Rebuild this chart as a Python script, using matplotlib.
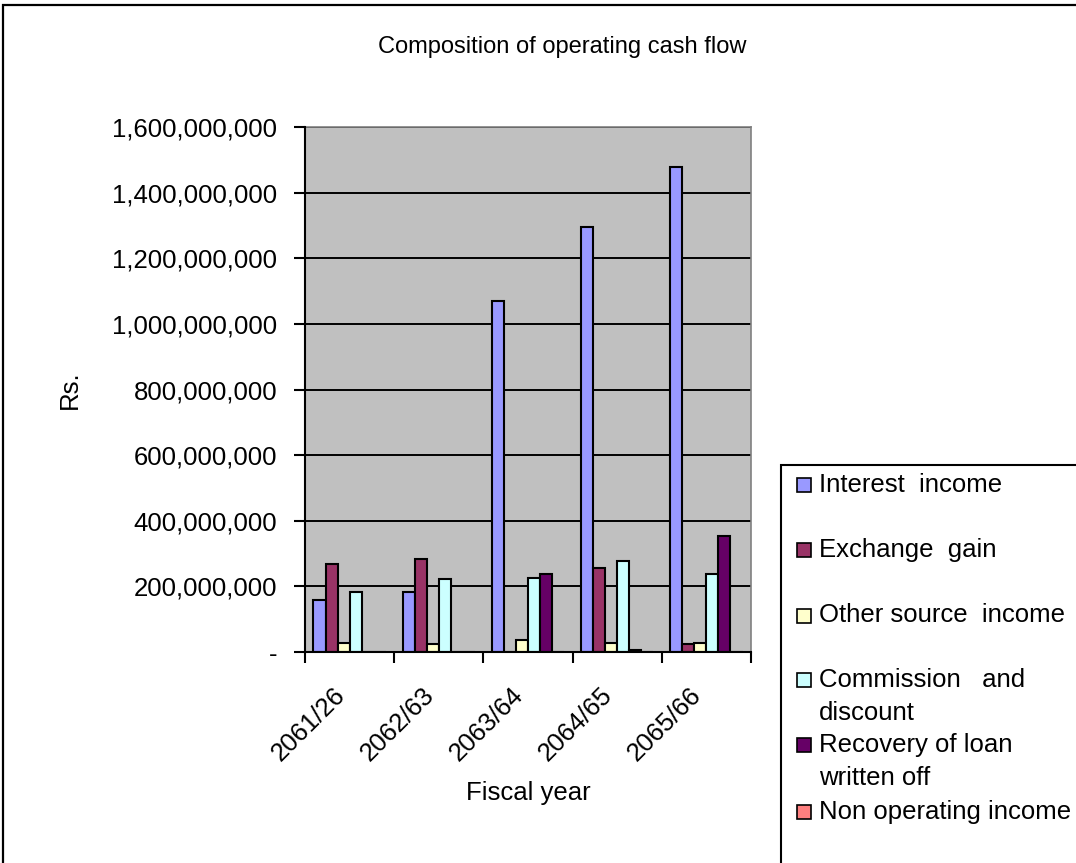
import numpy as np
import matplotlib
matplotlib.use("Agg")
import matplotlib.pyplot as plt
from matplotlib.patches import Rectangle
from matplotlib.ticker import FuncFormatter, MultipleLocator
from matplotlib.transforms import ScaledTranslation

# ---- data -------------------------------------------------------------
fiscal_years = ["2061/26", "2062/63", "2063/64", "2064/65", "2065/66"]

series_names = [
    "Interest  income",
    "Exchange  gain",
    "Other source  income",
    "Commission   and\ndiscount",
    "Recovery of loan\nwritten off",
    "Non operating income",
]

interest_income = [160_000_000, 183_000_000, 1_069_000_000, 1_296_000_000, 1_479_000_000]
exchange_gain = [269_000_000, 282_000_000, 0, 256_000_000, 23_000_000]
other_source_income = [28_000_000, 23_000_000, 38_000_000, 28_000_000, 28_000_000]
commission_discount = [183_000_000, 221_000_000, 227_000_000, 276_000_000, 239_000_000]
loan_recovery = [0, 0, 239_000_000, 5_000_000, 355_000_000]
non_operating_income = [0, 0, 0, 0, 0]

series_values = [
    interest_income,
    exchange_gain,
    other_source_income,
    commission_discount,
    loan_recovery,
    non_operating_income,
]

series_colors = ["#9999FF", "#993366", "#FFFFCC", "#CCFFFF", "#660066", "#FF8080"]

# ---- figure -----------------------------------------------------------
W, H = 1076, 863
plt.rcParams["font.family"] = ["Liberation Sans", "DejaVu Sans"]
fig = plt.figure(figsize=(W / 100, H / 100), dpi=100)


def fx(x):
    return x / W


def fy(y):
    return 1 - y / H


# plot area in pixel terms
left, right, top, bottom = 305, 751, 127, 652
ax = fig.add_axes([fx(left), fy(bottom), (right - left) / W, (bottom - top) / H])
ax.set_facecolor("#C0C0C0")

n_series = len(series_values)
bar_w = 0.135
x = np.arange(len(fiscal_years))
for k, (vals, color) in enumerate(zip(series_values, series_colors)):
    ax.bar(x + (k - (n_series - 1) / 2) * bar_w, vals, width=bar_w,
           color=color, edgecolor="black", linewidth=1.5, zorder=3)

ax.set_xlim(-0.5, len(fiscal_years) - 0.5)
ax.set_ylim(0, 1_600_000_000)
ax.yaxis.set_major_locator(MultipleLocator(200_000_000))
ax.yaxis.set_major_formatter(
    FuncFormatter(lambda v, p: "-" if v == 0 else f"{v:,.0f}"))
ax.grid(axis="y", color="black", linewidth=1.4, zorder=1)
ax.set_axisbelow(True)

# category labels centred, tick marks on category boundaries
ax.set_xticks(x)
ax.set_xticklabels(fiscal_years, rotation=45, ha="right", va="top",
                   rotation_mode="anchor", fontsize=18.5)
ax.tick_params(axis="x", which="major", length=0, pad=22)
shift = ScaledTranslation(-17 / 100, 0, fig.dpi_scale_trans)
for lbl in ax.get_xticklabels():
    lbl.set_transform(lbl.get_transform() + shift)
ax.set_xticks(np.arange(len(fiscal_years) + 1) - 0.5, minor=True)
ax.tick_params(axis="x", which="minor", length=8, width=1.5, color="black",
               direction="out")
ax.tick_params(axis="y", length=8, width=1.5, direction="out", pad=12,
               labelsize=18.5)

for side in ("top", "right"):
    ax.spines[side].set_color("#808080")
    ax.spines[side].set_linewidth(1.2)
for side in ("left", "bottom"):
    ax.spines[side].set_color("black")
    ax.spines[side].set_linewidth(1.5)
    ax.spines[side].set_zorder(4)

ax.set_xlabel("Fiscal year", fontsize=18.5, va="center")
ax.xaxis.set_label_coords(0.5, (bottom - 793) / (bottom - top))
ax.set_ylabel("Rs.", fontsize=18.5, va="center")
ax.yaxis.set_label_coords((70 - left) / (right - left), 0.5)

fig.text(fx(562), fy(47), "Composition of operating cash flow",
         ha="center", va="center", fontsize=17)

# outer chart border
fig.patches.append(Rectangle((fx(3), fy(H + 20)), fx(W + 20), fy(5) - fy(H + 20),
                             transform=fig.transFigure, fill=False,
                             edgecolor="black", linewidth=1.6))

# legend box with manually placed entries
fig.patches.append(Rectangle((fx(781), fy(H + 20)), fx(W + 20), fy(465) - fy(H + 20),
                             transform=fig.transFigure, facecolor="white",
                             edgecolor="black", linewidth=1.5, zorder=5))
entry_y = [485, 550, 615.5, 680, 745, 811.5]
line_step = 33
for name, color, y0 in zip(series_names, series_colors, entry_y):
    fig.patches.append(Rectangle((fx(797), fy(y0 + 7)), 14 / W, 14 / H,
                                 transform=fig.transFigure, facecolor=color,
                                 edgecolor="black", linewidth=1.2, zorder=6))
    for i, line in enumerate(name.split("\n")):
        fig.text(fx(819), fy(y0 + i * line_step), line, ha="left",
                 va="center", fontsize=18.5, zorder=7)

fig.savefig("out.png", dpi=100)
